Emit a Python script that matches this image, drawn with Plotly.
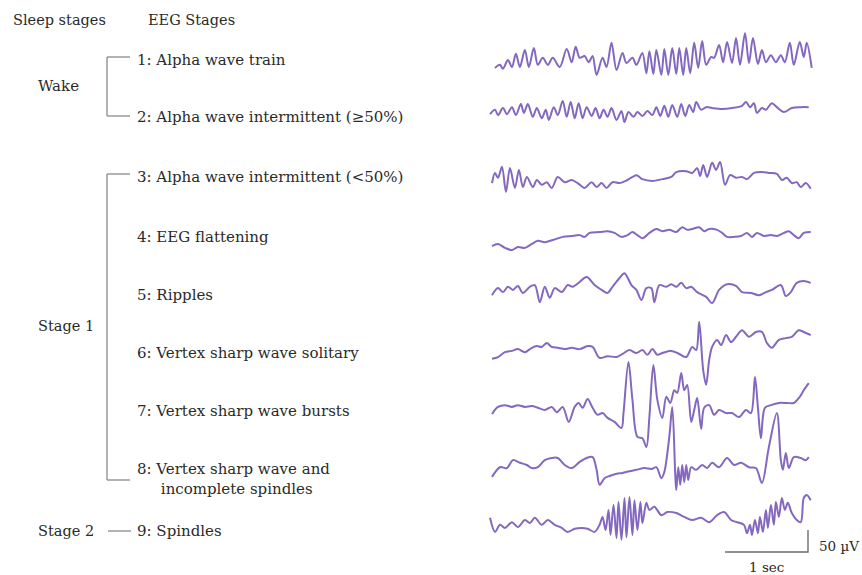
import plotly.graph_objects as go

# ---- EEG samples: time in ms, amplitude in µV (peaks/troughs of each trace) ----
T1 = [12, 72, 108, 168, 216, 264, 312, 372, 420, 480, 528, 588, 648, 708, 792, 876, 936, 984, 1032, 1092,
      1140, 1188, 1236, 1308, 1356, 1416, 1476, 1548, 1596, 1668, 1716, 1788, 1836, 1872, 1920, 1956, 2016,
      2052, 2100, 2148, 2196, 2232, 2280, 2316, 2364, 2412, 2460, 2508, 2556, 2616, 2652, 2712, 2760, 2808,
      2868, 2916, 2964, 3024, 3072, 3120, 3180, 3228, 3276, 3336, 3396, 3456, 3504, 3564, 3612, 3684, 3732,
      3768, 3828]
V1 = [-18, -11, -20, 0, -16, 14, -16, 23, -16, 27, -11, 5, -11, 5, -16, 25, -5, 30, 5, 9,
      -5, 9, -34, 5, -16, 39, -23, 16, -7, 5, -11, 16, -30, 20, -32, 23, -34,
      25, -34, 27, -32, 27, -34, 27, -30, 39, -18, 43, -11, 7, 5, 34, -5, 41,
      -7, 50, -11, 61, -7, 50, -9, 23, -5, 11, -5, 11, -5, 39, -11, 41, 7,
      39, -18]

T2 = [-48, 12, 48, 108, 156, 216, 264, 324, 360, 408, 468, 516, 576, 624, 660, 720, 768, 828, 876, 924,
      972, 1020, 1068, 1116, 1176, 1224, 1272, 1320, 1368, 1416, 1476, 1536, 1572, 1620, 1680, 1728, 1788,
      1848, 1908, 1956, 2004, 2052, 2100, 2148, 2208, 2256, 2304, 2352, 2400, 2436, 2496, 2556, 2628, 2748,
      2868, 2988, 3036, 3084, 3132, 3168, 3228, 3276, 3348, 3408, 3492, 3588, 3696, 3792]
V2 = [-5, 5, -7, 9, -5, 11, -7, 18, -2, 18, -11, 9, -14, 5, -18, 11, -7, 25, -11, 23,
      -14, 20, -14, 11, -9, 9, -14, 5, -11, 9, -18, 2, -23, 0, -11, 0, -9,
      2, -7, 11, -9, 14, -11, 16, -11, 18, -9, 16, 0, 23, 5, 11, 9, 7,
      9, 14, 23, 11, 20, -2, 9, 5, 20, 11, 0, 9, 11, 11]

T3 = [-24, 12, 48, 96, 144, 192, 252, 300, 348, 396, 468, 516, 576, 636, 696, 768, 852, 936, 1008, 1092,
      1176, 1236, 1296, 1356, 1428, 1512, 1608, 1716, 1788, 1908, 2028, 2136, 2196, 2316, 2388, 2448, 2484,
      2520, 2568, 2628, 2676, 2724, 2784, 2844, 2916, 2988, 3048, 3132, 3228, 3312, 3408, 3468, 3528, 3588,
      3648, 3696, 3756, 3816]
V3 = [-7, 16, 5, 30, -27, 27, -18, 23, -16, 7, -16, 0, -11, -5, -18, 7, -5, 0, -7, -18,
      -5, -16, -7, -18, -5, -7, 0, 11, 2, -2, 2, 7, 18, 20, 16, 27, 9,
      34, 7, 39, 23, 41, -11, 11, 5, 7, 2, 16, 18, 16, 14, 0, 5, -7,
      -5, -16, -7, -20]

T4 = [-24, 48, 132, 216, 288, 372, 456, 528, 612, 708, 828, 948, 1032, 1092, 1152, 1272, 1368, 1452, 1536,
      1608, 1668, 1728, 1788, 1872, 1956, 2028, 2112, 2196, 2268, 2328, 2388, 2472, 2532, 2592, 2688, 2748,
      2808, 2892, 2976, 3048, 3108, 3168, 3252, 3336, 3408, 3492, 3552, 3612, 3672, 3732, 3816]
V4 = [-23, -18, -27, -32, -25, -27, -18, -11, -14, -9, -2, 0, 2, -2, 7, 9, 11, 7, -2,
      2, 9, 2, -5, 7, 16, 11, 14, 9, 20, 14, 16, 20, 11, 16, 14, 7,
      -2, -2, 0, 7, -2, 7, 0, 2, 0, 7, 11, 2, -5, 7, 9]

T5 = [-24, 48, 108, 168, 228, 288, 348, 432, 492, 552, 612, 672, 732, 816, 888, 948, 1032, 1116, 1212,
      1296, 1368, 1428, 1512, 1572, 1656, 1716, 1776, 1836, 1896, 1932, 1992, 2076, 2136, 2196, 2256, 2316,
      2376, 2448, 2556, 2628, 2712, 2808, 2916, 2988, 3096, 3192, 3276, 3348, 3456, 3516, 3576, 3648, 3732,
      3816]
V5 = [-14, 2, -7, 5, -2, 7, -9, 5, 9, -30, 5, -20, 2, -7, 9, 5, 16, 27, 9,
      -2, -9, 5, 25, 36, 9, -2, -25, 2, 2, -30, 9, 5, 11, 5, 14, 2,
      5, -7, -18, -32, -2, 11, 7, -7, -9, -14, -7, -2, 9, -16, -7, 14, 18,
      14]

T6 = [-24, 48, 132, 216, 288, 372, 456, 516, 576, 636, 696, 768, 852, 936, 1032, 1128, 1188, 1272, 1368,
      1476, 1548, 1632, 1716, 1788, 1848, 1908, 1968, 2028, 2136, 2232, 2316, 2388, 2436, 2472, 2520, 2556,
      2592, 2628, 2688, 2736, 2796, 2856, 2916, 2988, 3072, 3156, 3228, 3288, 3348, 3432, 3516, 3588, 3672,
      3732, 3816]
V6 = [-20, -16, -5, -2, 2, -5, 5, 9, 7, 16, 7, 5, 2, 5, 2, 9, 7, -18, -14,
      -16, -9, 0, -7, 0, -11, 2, -11, -7, -2, -9, -16, 7, 0, 64, -45, -79,
      -23, 7, 23, 11, 34, 18, 30, 45, 30, 41, 41, 16, 5, 23, 27, 30, 45,
      41, 34]

T7 = [-24, 48, 132, 216, 288, 372, 456, 528, 612, 696, 756, 828, 900, 972, 1020, 1068, 1128, 1188, 1248,
      1308, 1368, 1452, 1536, 1560, 1620, 1668, 1728, 1788, 1836, 1872, 1920, 1968, 2028, 2076, 2124, 2172,
      2208, 2256, 2292, 2328, 2376, 2412, 2448, 2496, 2532, 2592, 2652, 2712, 2796, 2868, 2952, 3036, 3096,
      3144, 3180, 3216, 3264, 3336, 3432, 3528, 3612, 3684, 3732, 3792]
V7 = [-9, 7, 11, 7, 11, 7, 9, 5, 0, 7, -5, 7, -27, 7, 16, 5, 25, 5, -11,
      -7, -18, -27, -41, -7, 109, 23, -61, -64, -84, -16, 102, 23, -18, 30, 16, 45,
      39, 84, 45, 57, -27, 0, 27, -43, 5, 11, -11, 0, -7, -7, -16, 0, -7,
      75, 5, -64, 5, 11, 16, 16, 16, 30, 45, 61]

T8 = [-24, 72, 156, 228, 312, 396, 456, 528, 612, 696, 768, 852, 936, 1032, 1116, 1188, 1236, 1272, 1332,
      1392, 1476, 1548, 1632, 1716, 1812, 1896, 1956, 2016, 2052, 2112, 2148, 2184, 2196, 2220, 2244, 2268,
      2292, 2316, 2340, 2376, 2436, 2508, 2568, 2628, 2712, 2808, 2892, 2976, 3072, 3156, 3228, 3312, 3408,
      3456, 3480, 3516, 3552, 3612, 3696, 3756, 3792]
V8 = [-27, -5, -7, 11, 5, 0, -7, -5, 11, 16, 16, 0, -7, 7, 16, 18, -11, -45, -30,
      -25, -20, -18, -14, -11, -7, -9, -5, -30, -16, 64, 132, -23, -57, -5, -45, 0,
      -39, 0, -34, -5, -11, 0, -7, 5, -5, 16, 0, 5, -5, -7, -41, 41, 118,
      11, -11, 27, -7, 18, 16, 11, 18]

T9 = [-48, 12, 72, 132, 216, 288, 372, 432, 492, 576, 648, 732, 816, 888, 972, 1056, 1128, 1212, 1272,
      1308, 1344, 1380, 1404, 1440, 1476, 1500, 1536, 1572, 1596, 1632, 1668, 1692, 1728, 1764, 1788, 1836,
      1872, 1932, 2016, 2088, 2196, 2292, 2388, 2496, 2592, 2688, 2772, 2856, 2928, 3012, 3048, 3084, 3108,
      3144, 3180, 3204, 3240, 3276, 3300, 3336, 3372, 3396, 3432, 3468, 3504, 3540, 3588, 3648, 3696, 3732,
      3768, 3816]
V9 = [5, -27, -11, -18, -5, -16, 0, -7, 5, -11, 0, -11, -18, -27, -20, -18, -20, -27, -11,
      7, -23, 23, -34, 34, -41, 41, -45, 50, -39, 52, -34, 45, -23, 41, -7, 39,
      23, 30, 11, 18, 16, 7, 0, 5, -5, 11, 18, 0, -5, -11, -30, -11, -34,
      0, -30, 7, -27, 23, -18, 34, -11, 41, 7, 50, 23, 39, 16, 0, -5, 50,
      57, 45]

TRACES = [(T1, V1), (T2, V2), (T3, V3), (T4, V4), (T5, V5), (T6, V6), (T7, V7), (T8, V8), (T9, V9)]

# second line of label 8 is indented to sit under "Vertex"
INDENT = "\u00a0" * 5
EEG_LABELS = [
    "1: Alpha wave train",
    "2: Alpha wave intermittent (≥50%)",
    "3: Alpha wave intermittent (<50%)",
    "4: EEG flattening",
    "5: Ripples",
    "6: Vertex sharp wave solitary",
    "7: Vertex sharp wave bursts",
    "8: Vertex sharp wave and<br>" + INDENT + "incomplete spindles",
    "9: Spindles",
]
SLEEP_STAGES = ["Wake", "Stage 1", "Stage 2"]
SCALE_TIME_MS = 1000
SCALE_AMP_UV = 50

# ---- layout geometry (pixels in an 862 x 575 canvas) ----
W, H = 862, 575
MS_PER_PX = 1000 / 83.0
UV_PER_PX = 50 / 22.0
T0_PX = 494
BASE_PX = [60, 112, 180, 236, 289, 350, 410, 465, 520]
LABEL_Y = [60, 117, 177, 237, 295, 353, 411, 479, 531]

PURPLE = "#8468bf"
TEXT = "#2a2a2a"
GREY = "#8a8a8a"
FONT = "DejaVu Serif"
FS = 14.5
FS_EEG = 15


def px_x(p):
    return p / W


def px_y(p):
    return 1 - p / H


fig = go.Figure()
for (t, v), b in zip(TRACES, BASE_PX):
    off = -b * UV_PER_PX
    fig.add_trace(go.Scatter(
        x=t, y=[val + off for val in v], mode="lines",
        line=dict(color=PURPLE, width=2, shape="spline", smoothing=0.9),
        hoverinfo="skip", showlegend=False,
    ))

ann = []


def label(text, x, y, size=FS, anchor="left"):
    ann.append(dict(text=text, x=px_x(x), y=px_y(y), xref="paper", yref="paper",
                    xanchor=anchor, yanchor="middle", align="left", showarrow=False,
                    font=dict(family=FONT, size=size, color=TEXT)))


label("Sleep stages", 11, 20)
label("EEG Stages", 146, 20)
for txt, y in zip(EEG_LABELS, LABEL_Y):
    label(txt, 135, y, size=FS_EEG)
label(SLEEP_STAGES[0], 36, 86, size=15)
label(SLEEP_STAGES[1], 36, 326)
label(SLEEP_STAGES[2], 36, 531)

shapes = []


def seg(x0, y0, x1, y1, color=GREY, width=1.3):
    shapes.append(dict(type="line", xref="paper", yref="paper",
                       x0=px_x(x0), y0=px_y(y0), x1=px_x(x1), y1=px_y(y1),
                       line=dict(color=color, width=width)))


# Wake bracket
seg(107, 57, 107, 116)
seg(107, 57, 130, 57)
seg(107, 116, 130, 116)
# Stage 1 bracket
seg(107, 174, 107, 480)
seg(107, 174, 130, 174)
seg(107, 480, 130, 480)
# Stage 2 tick
seg(108, 531, 131, 531)

# Scale bar in data units: 1 s horizontal, 50 µV vertical
bar_end = (808 - T0_PX) * MS_PER_PX
bar_y = -552 * UV_PER_PX
fig.add_trace(go.Scatter(
    x=[bar_end - SCALE_TIME_MS, bar_end, bar_end],
    y=[bar_y, bar_y, bar_y + SCALE_AMP_UV],
    mode="lines", line=dict(color="#6e6e6e", width=1.4),
    hoverinfo="skip", showlegend=False,
))
label(f"{SCALE_AMP_UV} µV", 817, 546, size=13.5)
ann.append(dict(text="1 sec", x=px_x(766), y=px_y(567), xref="paper", yref="paper",
                xanchor="center", yanchor="middle", showarrow=False,
                font=dict(family=FONT, size=13.5, color=TEXT)))

fig.update_layout(
    width=W, height=H,
    margin=dict(l=0, r=0, t=0, b=0),
    paper_bgcolor="white", plot_bgcolor="white",
    annotations=ann, shapes=shapes,
    xaxis=dict(range=[-T0_PX * MS_PER_PX, (W - T0_PX) * MS_PER_PX], visible=False, fixedrange=True),
    yaxis=dict(range=[-H * UV_PER_PX, 0], visible=False, fixedrange=True),
)

fig.write_html("out.html")
